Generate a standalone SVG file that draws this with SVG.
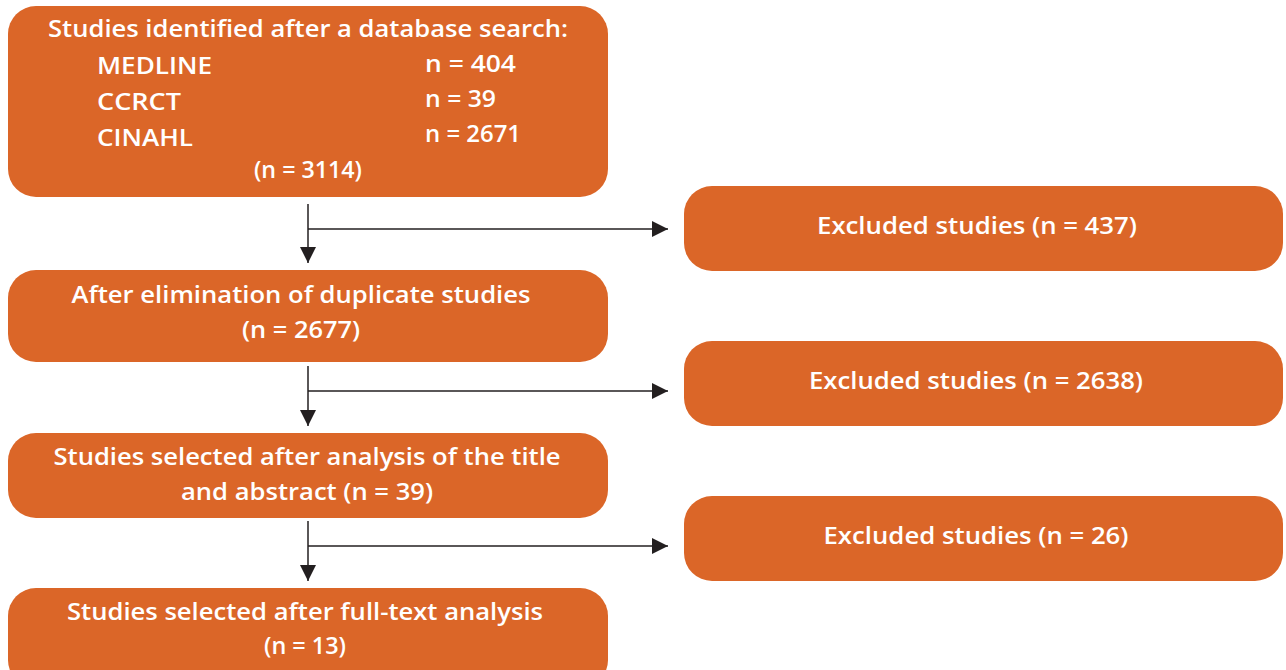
<svg xmlns="http://www.w3.org/2000/svg" width="1286" height="670" viewBox="0 0 1286 670">
  <style>
    .box { fill: #DB6628; }
    .t { fill: #ffffff; font-family: "Open Sans", "Liberation Sans", sans-serif; font-weight: 600; font-size: 23px; }
    .c { text-anchor: middle; }
    .ln { stroke: #231f20; stroke-width: 1.5; fill: none; }
  </style>
  <defs>
    <marker id="ahl" viewBox="0 0 16 16" refX="16" refY="8" markerWidth="16" markerHeight="16" markerUnits="userSpaceOnUse" orient="auto">
      <path d="M0,0 L16,8 L0,16 Z" fill="#231f20"/>
    </marker>
  </defs>

  <g id="connectors">
    <path class="ln" d="M308,204 V263" marker-end="url(#ahl)"/>
    <path class="ln" d="M308,229 H668" marker-end="url(#ahl)"/>
    <path class="ln" d="M308,366 V426" marker-end="url(#ahl)"/>
    <path class="ln" d="M308,391 H668" marker-end="url(#ahl)"/>
    <path class="ln" d="M308,521 V581" marker-end="url(#ahl)"/>
    <path class="ln" d="M308,546 H668" marker-end="url(#ahl)"/>
  </g>

  <g id="search">
    <rect class="box" x="8" y="6" width="600" height="191" rx="28"/>
    <text class="t c" x="308" y="37" textLength="520" lengthAdjust="spacingAndGlyphs">Studies identified after a database search:</text>
    <text class="t" x="97" y="74" textLength="115" lengthAdjust="spacingAndGlyphs">MEDLINE</text>
    <text class="t" x="425" y="72" textLength="91" lengthAdjust="spacingAndGlyphs">n = 404</text>
    <text class="t" x="97" y="110" textLength="84" lengthAdjust="spacingAndGlyphs">CCRCT</text>
    <text class="t" x="425" y="107" textLength="71" lengthAdjust="spacingAndGlyphs">n = 39</text>
    <text class="t" x="97" y="146" textLength="96" lengthAdjust="spacingAndGlyphs">CINAHL</text>
    <text class="t" x="425" y="142" textLength="96" lengthAdjust="spacingAndGlyphs">n = 2671</text>
    <text class="t c" x="308" y="178" textLength="108" lengthAdjust="spacingAndGlyphs">(n = 3114)</text>
  </g>

  <g id="dedup">
    <rect class="box" x="8" y="270" width="600" height="92" rx="28"/>
    <text class="t c" x="301" y="303" textLength="459" lengthAdjust="spacingAndGlyphs">After elimination of duplicate studies</text>
    <text class="t c" x="301" y="338" textLength="118" lengthAdjust="spacingAndGlyphs">(n = 2677)</text>
  </g>

  <g id="title-abstract">
    <rect class="box" x="8" y="433" width="600" height="85" rx="28"/>
    <text class="t c" x="307" y="465" textLength="507" lengthAdjust="spacingAndGlyphs">Studies selected after analysis of the title</text>
    <text class="t c" x="307" y="500" textLength="252" lengthAdjust="spacingAndGlyphs">and abstract (n = 39)</text>
  </g>

  <g id="full-text">
    <rect class="box" x="8" y="588" width="600" height="100" rx="28"/>
    <text class="t c" x="305" y="620" textLength="476" lengthAdjust="spacingAndGlyphs">Studies selected after full-text analysis</text>
    <text class="t c" x="305" y="654" textLength="82" lengthAdjust="spacingAndGlyphs">(n = 13)</text>
  </g>

  <g id="excluded-1">
    <rect class="box" x="684" y="186" width="599" height="85" rx="28"/>
    <text class="t c" x="977" y="234" textLength="320" lengthAdjust="spacingAndGlyphs">Excluded studies (n = 437)</text>
  </g>

  <g id="excluded-2">
    <rect class="box" x="684" y="341" width="599" height="85" rx="28"/>
    <text class="t c" x="976" y="389" textLength="334" lengthAdjust="spacingAndGlyphs">Excluded studies (n = 2638)</text>
  </g>

  <g id="excluded-3">
    <rect class="box" x="684" y="496" width="599" height="85" rx="28"/>
    <text class="t c" x="976" y="544" textLength="305" lengthAdjust="spacingAndGlyphs">Excluded studies (n = 26)</text>
  </g>
</svg>
